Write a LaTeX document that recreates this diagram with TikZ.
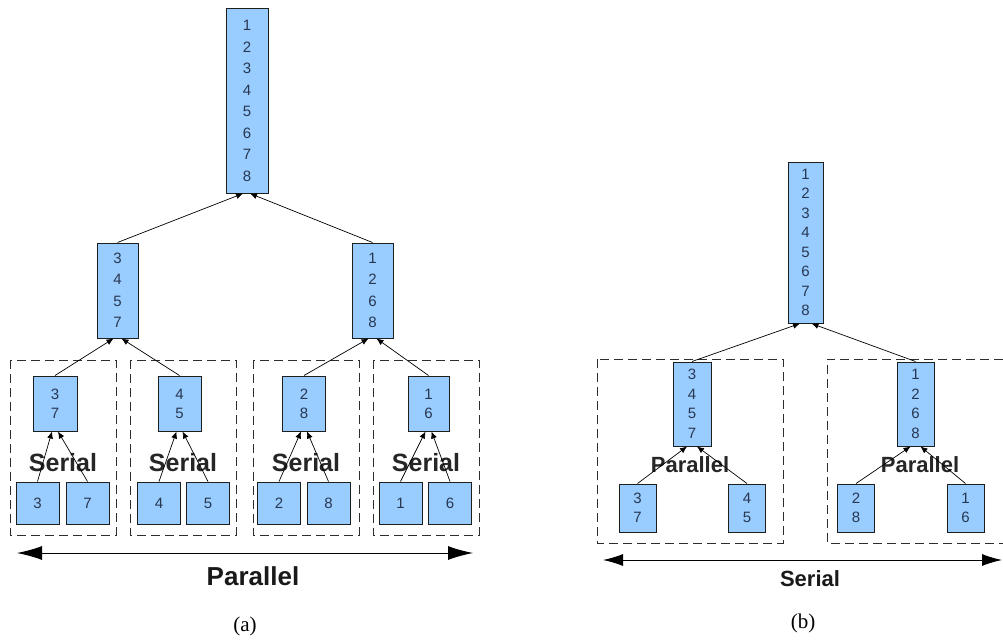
\documentclass[tikz,border=0pt]{standalone}
\usepackage{fontspec}
\setmainfont{Liberation Sans}
\newfontfamily\capfont{Liberation Serif}
\usetikzlibrary{arrows.meta,calc}
\definecolor{boxfill}{RGB}{153,204,255}
\definecolor{boxtext}{RGB}{40,55,80}
\definecolor{boxline}{RGB}{30,30,30}
\definecolor{grpline}{RGB}{45,45,45}
\begin{document}
\begin{tikzpicture}[x=1pt,y=-1pt,
  nbox/.style={draw=boxline, fill=boxfill, text=boxtext, inner sep=0pt, align=center, line width=1pt},
  bigA/.style={nbox, font=\fontsize{15}{21.5}\selectfont},
  bigB/.style={nbox, font=\fontsize{15}{19.5}\selectfont},
  smallbox/.style={nbox, font=\fontsize{15}{19}\selectfont},
  grp/.style={draw=grpline, line width=1pt, dash pattern=on 9pt off 5pt},
  arr/.style={-{Latex[length=7pt,width=6pt]}, line width=0.7pt, black},
  span/.style={{Latex[length=25pt,width=14pt]}-{Latex[length=25pt,width=14pt]}, line width=1pt, black},
  spanb/.style={{Latex[length=20pt,width=12pt]}-{Latex[length=20pt,width=12pt]}, line width=0.9pt, black},
  inlab/.style={anchor=base, text=black!85, inner sep=0pt},
  caplab/.style={anchor=base, inner sep=0pt, font=\capfont\fontsize{21}{24}\selectfont}]
\useasboundingbox (0,0) rectangle (1003,642);

% ---------------- (a) ----------------
% group boxes
\draw[grp] (10,360) rectangle (116,535);
\draw[grp] (130,360) rectangle (236,535);
\draw[grp] (253,360) rectangle (359,535);
\draw[grp] (373,360) rectangle (479,535);

\node[bigA, minimum width=42pt, minimum height=184pt] (atop) at (247,101) {1\\2\\3\\4\\5\\6\\7\\8};
\node[bigA, minimum width=41pt, minimum height=95pt] (aml) at (117.5,290.5) {3\\4\\5\\7};
\node[bigA, minimum width=41pt, minimum height=95pt] (amr) at (372.5,290.5) {1\\2\\6\\8};

\node[smallbox, minimum width=44pt, minimum height=55pt] (as1) at (55,403.5) {3\\7};
\node[smallbox, minimum width=43pt, minimum height=55pt] (as2) at (179.5,403.5) {4\\5};
\node[smallbox, minimum width=43pt, minimum height=55pt] (as3) at (304,403.5) {2\\8};
\node[smallbox, minimum width=41pt, minimum height=55pt] (as4) at (428.5,403.5) {1\\6};

\node[smallbox, minimum width=43pt, minimum height=42pt] (al3) at (37.5,503) {3};
\node[smallbox, minimum width=43pt, minimum height=42pt] (al7) at (87.5,503) {7};
\node[smallbox, minimum width=43pt, minimum height=42pt] (al4) at (159,503) {4};
\node[smallbox, minimum width=43pt, minimum height=42pt] (al5) at (208,503) {5};
\node[smallbox, minimum width=43pt, minimum height=42pt] (al2) at (279,503) {2};
\node[smallbox, minimum width=43pt, minimum height=42pt] (al8) at (328.5,503) {8};
\node[smallbox, minimum width=43pt, minimum height=42pt] (al1) at (400.5,503) {1};
\node[smallbox, minimum width=43pt, minimum height=42pt] (al6) at (450,503) {6};

% Serial labels
\foreach \n/\x in {sa/63,sb/183,sc/306,sd/426}
  \node[inlab, font=\bfseries\fontsize{25}{27}\selectfont] (\n) at (\x,471) {Serial};

% arrows
\draw[arr] (aml.north) -- ($(atop.south)+(-4,0)$);
\draw[arr] (amr.north) -- ($(atop.south)+(3,0)$);
\draw[arr] (as1.north) -- ($(aml.south)+(-4,0)$);
\draw[arr] (as2.north) -- ($(aml.south)+(4,0)$);
\draw[arr] (as3.north) -- ($(amr.south)+(-4,0)$);
\draw[arr] (as4.north) -- ($(amr.south)+(4,0)$);
\draw[arr] (al3.north) -- ($(as1.south)+(-3,0)$);
\draw[arr] (al7.north) -- ($(as1.south)+(3,0)$);
\draw[arr] (al4.north) -- ($(as2.south)+(-3,0)$);
\draw[arr] (al5.north) -- ($(as2.south)+(3,0)$);
\draw[arr] (al2.north) -- ($(as3.south)+(-3,0)$);
\draw[arr] (al8.north) -- ($(as3.south)+(3,0)$);
\draw[arr] (al1.north) -- ($(as4.south)+(-3,0)$);
\draw[arr] (al6.north) -- ($(as4.south)+(3,0)$);

\coordinate (pa1) at (17,553);
\coordinate (pa2) at (473,553);
\draw[span] (pa1) -- (pa2);
\node[inlab, text=black!90, font=\bfseries\fontsize{26}{28}\selectfont] (plab) at (253,585) {Parallel};
\node[caplab] (capa) at (245,631) {(a)};

% ---------------- (b) ----------------
\draw[grp] (597,359) rectangle (783,543);
\draw[grp] (1003,359) -- (827,359) -- (827,543) -- (1003,543);

\node[bigB, minimum width=35pt, minimum height=161pt] (btop) at (805.5,242.5) {1\\2\\3\\4\\5\\6\\7\\8};
\node[bigB, minimum width=38pt, minimum height=84pt] (bml) at (692,404) {3\\4\\5\\7};
\node[bigB, minimum width=37pt, minimum height=84pt] (bmr) at (915.5,404) {1\\2\\6\\8};

\node[smallbox, minimum width=37pt, minimum height=48pt] (bl1) at (637.5,508) {3\\7};
\node[smallbox, minimum width=37pt, minimum height=48pt] (bl2) at (747,508) {4\\5};
\node[smallbox, minimum width=37pt, minimum height=48pt] (bl3) at (856,508) {2\\8};
\node[smallbox, minimum width=37pt, minimum height=48pt] (bl4) at (965.5,508) {1\\6};

\node[inlab, font=\bfseries\fontsize{22}{24}\selectfont] (pb1) at (690,472.5) {Parallel};
\node[inlab, font=\bfseries\fontsize{22}{24}\selectfont] (pb2) at (920,472.5) {Parallel};

\draw[arr] (bml.north) -- ($(btop.south)+(-5.5,0)$);
\draw[arr] (bmr.north) -- ($(btop.south)+(6,0)$);
\draw[arr] (bl1.north) -- ($(bml.south)+(-5,0)$);
\draw[arr] (bl2.north) -- ($(bml.south)+(5,0)$);
\draw[arr] (bl3.north) -- ($(bmr.south)+(-5,0)$);
\draw[arr] (bl4.north) -- ($(bmr.south)+(5,0)$);

\coordinate (sb1) at (603,560);
\coordinate (sb2) at (1002,560);
\draw[spanb] (sb1) -- (sb2);
\node[inlab, text=black!90, font=\bfseries\fontsize{22}{24}\selectfont] (slab) at (810,586.5) {Serial};
\node[caplab] (capb) at (803,628) {(b)};
\end{tikzpicture}
\end{document}
